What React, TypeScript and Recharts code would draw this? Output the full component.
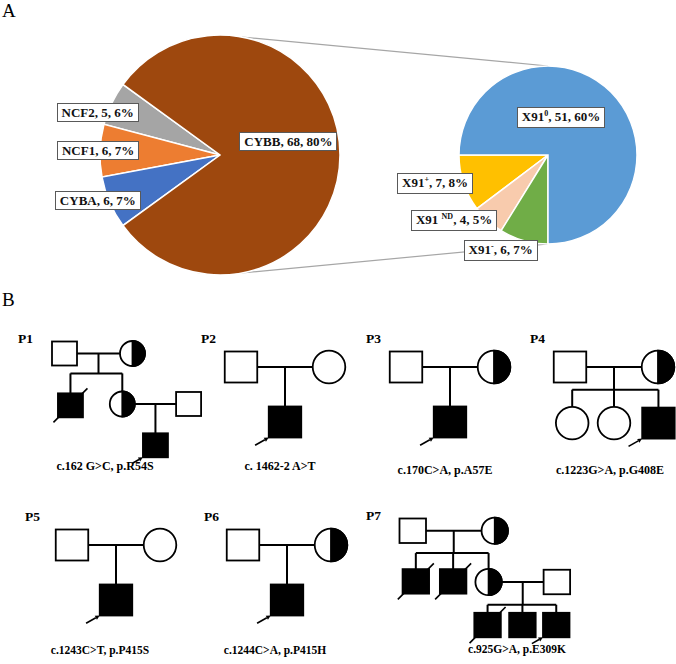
import React from "react";
import {
  PieChart,
  Pie,
  Cell,
  ScatterChart,
  Scatter,
  XAxis,
  YAxis,
  ReferenceLine,
  Customized,
} from "recharts";

// ---- panel A: genes, then CYBB split by X91 subtype ----
const geneNames = ["NCF2", "NCF1", "CYBA", "CYBB"];
const geneCounts = [5, 6, 6, 68];
const geneColors = ["#a5a5a5", "#ed7d31", "#4472c4", "#9e480e"];

const subtypeNames = ["X91", "X91 ", "X91", "X91"];
const subtypeSups = ["+", "ND", "-", "0"];
const subtypeCounts = [7, 4, 6, 51];
const subtypeColors = ["#ffc000", "#f8cbad", "#70ad47", "#5b9bd5"];

const totalPatients = geneCounts.reduce((a, b) => a + b, 0);

// ---- panel B: pedigrees ----
// sex M/F, st: A affected, C carrier, U unaffected; dec = deceased, pb = proband
const p1People = [
  { id: "f", x: 0, y: 0, sex: "M", st: "U" },
  { id: "m", x: 4, y: 0, sex: "F", st: "C" },
  { id: "s1", x: 0.35, y: 3.05, sex: "M", st: "A", dec: true },
  { id: "d", x: 3.4, y: 2.97, sex: "F", st: "C" },
  { id: "h", x: 7.3, y: 2.97, sex: "M", st: "U" },
  { id: "p", x: 5.35, y: 5.4, sex: "M", st: "A", pb: true },
];
const p1Unions = [
  { a: "f", b: "m", kids: ["s1", "d"], bar: 1.17 },
  { a: "d", b: "h", kids: ["p"] },
];

const p2People = [
  { id: "f", x: 0, y: 0, sex: "M", st: "U" },
  { id: "m", x: 4, y: 0, sex: "F", st: "U" },
  { id: "p", x: 2, y: 2.5, sex: "M", st: "A", pb: true },
];
const p3People = [
  { id: "f", x: 0, y: 0, sex: "M", st: "U" },
  { id: "m", x: 4, y: 0, sex: "F", st: "C" },
  { id: "p", x: 2, y: 2.5, sex: "M", st: "A", pb: true },
];
const p4People = [
  { id: "f", x: 0, y: 0, sex: "M", st: "U" },
  { id: "m", x: 4, y: 0, sex: "F", st: "C" },
  { id: "d1", x: 0.1, y: 2.55, sex: "F", st: "U" },
  { id: "d2", x: 2, y: 2.55, sex: "F", st: "U" },
  { id: "p", x: 4.02, y: 2.55, sex: "M", st: "A", pb: true },
];
const p5People = [
  { id: "f", x: 0, y: 0, sex: "M", st: "U" },
  { id: "m", x: 4, y: 0, sex: "F", st: "U" },
  { id: "p", x: 2, y: 2.5, sex: "M", st: "A", pb: true },
];
const p6People = [
  { id: "f", x: 0, y: 0, sex: "M", st: "U" },
  { id: "m", x: 4, y: 0, sex: "F", st: "C" },
  { id: "p", x: 2, y: 2.5, sex: "M", st: "A", pb: true },
];
const trioUnions = [{ a: "f", b: "m", kids: ["p"] }];
const p4Unions = [{ a: "f", b: "m", kids: ["d1", "d2", "p"], bar: 1.03 }];

const p7People = [
  { id: "f", x: 0, y: 0, sex: "M", st: "U" },
  { id: "m", x: 4, y: 0, sex: "F", st: "C" },
  { id: "s1", x: 0.15, y: 2.47, sex: "M", st: "A", dec: true },
  { id: "s2", x: 1.97, y: 2.47, sex: "M", st: "A", dec: true },
  { id: "d", x: 3.7, y: 2.5, sex: "F", st: "C" },
  { id: "h", x: 7.03, y: 2.5, sex: "M", st: "U" },
  { id: "k1", x: 3.65, y: 4.6, sex: "M", st: "A", dec: true },
  { id: "k2", x: 5.35, y: 4.6, sex: "M", st: "A" },
  { id: "k3", x: 7.0, y: 4.6, sex: "M", st: "A", pb: true },
];
const p7Unions = [
  { a: "f", b: "m", kids: ["s1", "s2", "d"], bar: 1.09 },
  { a: "d", b: "h", kids: ["k1", "k2", "k3"], bar: 3.61 },
];

const pedigreeNames = ["P1", "P2", "P3", "P4", "P5", "P6", "P7"];
const mutations = [
  "c.162 G>C, p.R54S",
  "c. 1462-2 A>T",
  "c.170C>A, p.A57E",
  "c.1223G>A, p.G408E",
  "c.1243C>T, p.P415S",
  "c.1244C>A, p.P415H",
  "c.925G>A, p.E309K",
];

const FONT = '"Liberation Serif", "Times New Roman", serif';

// layout only: where each pedigree sits and how big it is drawn
const pedLayout = [
  { people: p1People, unions: p1Unions, ppu: 17, ox: 64.5, oy: 353.5, sq: [25, 24], r: 12.5, tag: [18, 343], mut: [105, 470, 12] },
  { people: p2People, unions: trioUnions, ppu: 22, ox: 240.7, oy: 367, sq: [32.5, 31], r: 16.3, tag: [201, 343], mut: [280, 470, 12] },
  { people: p3People, unions: trioUnions, ppu: 22, ox: 405.5, oy: 366.7, sq: [32.5, 31], r: 16.3, tag: [366, 343], mut: [445, 474, 12] },
  { people: p4People, unions: p4Unions, ppu: 22, ox: 570.3, oy: 366.7, sq: [32.5, 31], r: 16.3, tag: [530, 343], mut: [610, 474, 12] },
  { people: p5People, unions: trioUnions, ppu: 22, ox: 72.2, oy: 545.3, sq: [32.5, 31], r: 16.3, tag: [25, 521], mut: [100, 654, 11.5] },
  { people: p6People, unions: trioUnions, ppu: 22, ox: 243, oy: 545.3, sq: [32.5, 31], r: 16.3, tag: [204, 521], mut: [275, 654, 11.5] },
  { people: p7People, unions: p7Unions, ppu: 20.5, ox: 413, oy: 531, sq: [26.5, 24.5], r: 13.2, tag: [366, 520], mut: [517, 653, 11.5] },
];

// label placement per slice: [radius fraction, dx, dy]
const geneLabelPos = [
  [1, -14, 9],
  [1, -2, 0],
  [1, -12, -2],
  [0.57, 0, -14],
];
const subtypeLabelPos = [
  [1, -28.6, 0],
  [1, -34, 0],
  [1, -23, 10],
  [0.5, -18.5, -6.5],
];

const BIG = { cx: 220, cy: 155, r: 120 };
const SMALL = { cx: 548, cy: 155, r: 89 };

const geneData = geneNames.map((name, i) => ({ name, value: geneCounts[i] }));
const subtypeData = subtypeNames.map((name, i) => ({
  name,
  sup: subtypeSups[i],
  value: subtypeCounts[i],
}));

const makeLabel = (pos: number[][]) => (props: any) => {
  const { cx, cy, midAngle, outerRadius, index, payload, value } = props;
  const [k, dx, dy] = pos[index];
  const rad = (-midAngle * Math.PI) / 180;
  const x = cx + outerRadius * k * Math.cos(rad) + dx;
  const y = cy + outerRadius * k * Math.sin(rad) + dy;
  const pct = Math.round((value / totalPatients) * 100);
  const name = payload.name;
  const sup = payload.sup;
  return (
    <foreignObject x={x - 70} y={y - 13} width={140} height={26}>
      <div
        style={{
          display: "flex",
          justifyContent: "center",
          alignItems: "center",
          height: "100%",
        }}
      >
        <span
          style={{
            background: "#fff",
            border: "1px solid #595959",
            padding: "1px 4px",
            fontFamily: FONT,
            fontWeight: 700,
            fontSize: 13,
            lineHeight: "15px",
            whiteSpace: "nowrap",
            color: "#111",
          }}
        >
          {name}
          {sup ? (
            <span style={{ fontSize: 8, position: "relative", top: -5 }}>{sup}</span>
          ) : null}
          {`, ${value}, ${pct}%`}
        </span>
      </div>
    </foreignObject>
  );
};

const polar = (c: { cx: number; cy: number; r: number }, deg: number) => ({
  x: c.cx + c.r * Math.cos((-deg * Math.PI) / 180),
  y: c.cy + c.r * Math.sin((-deg * Math.PI) / 180),
});

function ConnectorLines() {
  const a1 = polar(BIG, 79.5);
  const b1 = polar(SMALL, 90);
  const a2 = polar(BIG, -79.5);
  const b2 = polar(SMALL, -90);
  return (
    <g stroke="#a6a6a6" strokeWidth={1.2}>
      <line x1={a1.x} y1={a1.y} x2={b1.x} y2={b1.y} />
      <line x1={a2.x} y1={a2.y} x2={b2.x} y2={b2.y} />
    </g>
  );
}

function Glyph(props: any) {
  const { cx, cy, payload, sq, r } = props;
  const [w, h] = sq;
  const fill = payload.st === "A" ? "#000" : "#fff";
  const sw = 1.8;
  const out: any[] = [];
  if (payload.sex === "M") {
    out.push(
      <rect key="b" x={cx - w / 2} y={cy - h / 2} width={w} height={h} fill={fill} stroke="#000" strokeWidth={sw} />
    );
  } else {
    out.push(<circle key="b" cx={cx} cy={cy} r={r} fill={fill} stroke="#000" strokeWidth={sw} />);
    if (payload.st === "C") {
      out.push(
        <path key="h" d={`M${cx},${cy - r} A${r},${r} 0 0 1 ${cx},${cy + r} Z`} fill="#000" stroke="#000" strokeWidth={sw} />
      );
    }
  }
  if (payload.dec) {
    const d = w / 2 + 0.18 * w;
    out.push(
      <line key="d" x1={cx - d} y1={cy + d} x2={cx + d} y2={cy - d} stroke="#000" strokeWidth={1.6} />
    );
  }
  if (payload.pb) {
    const tx = cx - w / 2;
    const ty = cy + h / 2;
    const sx = tx - 0.42 * w;
    const sy = ty + 0.24 * w;
    const len = Math.hypot(tx - sx, ty - sy);
    const ux = (tx - sx) / len;
    const uy = (ty - sy) / len;
    const hl = 4.5;
    const hw = 2.2;
    const bx = tx - ux * hl;
    const by = ty - uy * hl;
    out.push(
      <line key="a" x1={sx} y1={sy} x2={bx} y2={by} stroke="#000" strokeWidth={1.6} />,
      <polygon
        key="ah"
        points={`${tx},${ty} ${bx - uy * hw},${by + ux * hw} ${bx + uy * hw},${by - ux * hw}`}
        fill="#000"
      />
    );
  }
  return <g>{out}</g>;
}

function buildSegments(people: any[], unions: any[], ppu: number, sq: number[], r: number) {
  const byId: Record<string, any> = {};
  people.forEach((p) => (byId[p.id] = p));
  const hx = (p: any) => (p.sex === "M" ? sq[0] / 2 : r) / ppu;
  const hy = (p: any) => (p.sex === "M" ? sq[1] / 2 : r) / ppu;
  const segs: any[] = [];
  unions.forEach((u) => {
    const a = byId[u.a];
    const b = byId[u.b];
    const [l, rt] = a.x < b.x ? [a, b] : [b, a];
    const y = (a.y + b.y) / 2;
    segs.push([{ x: l.x + hx(l), y }, { x: rt.x - hx(rt), y }]);
    const mid = (a.x + b.x) / 2;
    const kids = u.kids.map((id: string) => byId[id]);
    if (kids.length === 1) {
      segs.push([{ x: mid, y }, { x: mid, y: kids[0].y - hy(kids[0]) }]);
    } else {
      const xs = kids.map((k: any) => k.x);
      segs.push([{ x: mid, y }, { x: mid, y: u.bar }]);
      segs.push([{ x: Math.min(...xs), y: u.bar }, { x: Math.max(...xs), y: u.bar }]);
      kids.forEach((k: any) => segs.push([{ x: k.x, y: u.bar }, { x: k.x, y: k.y - hy(k) }]));
    }
  });
  return segs;
}

function Pedigree({ people, unions, ppu, ox, oy, sq, r }: any) {
  const x0 = -1.5;
  const y0 = -1.5;
  const x1 = Math.max(...people.map((p: any) => p.x)) + 1.5;
  const y1 = Math.max(...people.map((p: any) => p.y)) + 1.5;
  const segs = buildSegments(people, unions, ppu, sq, r);
  return (
    <div style={{ position: "absolute", left: ox + x0 * ppu, top: oy + y0 * ppu }}>
      <ScatterChart width={(x1 - x0) * ppu} height={(y1 - y0) * ppu} margin={{ top: 0, right: 0, bottom: 0, left: 0 }}>
        <XAxis type="number" dataKey="x" domain={[x0, x1]} hide allowDataOverflow />
        <YAxis type="number" dataKey="y" domain={[y0, y1]} hide reversed allowDataOverflow />
        {segs.map((s: any, i: number) => (
          <ReferenceLine key={i} segment={s} stroke="#000" strokeWidth={2} ifOverflow="visible" />
        ))}
        <Scatter
          data={people}
          isAnimationActive={false}
          shape={(p: any) => <Glyph {...p} sq={sq} r={r} />}
        />
      </ScatterChart>
    </div>
  );
}

export default function App() {
  return (
    <div
      style={{
        position: "relative",
        width: 676,
        height: 664,
        background: "#fff",
        overflow: "hidden",
        fontFamily: FONT,
      }}
    >
      <style>{"body{margin:0}"}</style>
      <div style={{ position: "absolute", left: 0, top: 0 }}>
        <PieChart width={676} height={290} margin={{ top: 0, right: 0, bottom: 0, left: 0 }}>
          <Customized component={ConnectorLines} />
          <Pie
            data={geneData}
            dataKey="value"
            nameKey="name"
            cx={BIG.cx}
            cy={BIG.cy}
            outerRadius={BIG.r}
            startAngle={144}
            endAngle={504}
            stroke="#fff"
            strokeWidth={1.5}
            label={makeLabel(geneLabelPos)}
            labelLine={false}
            isAnimationActive={false}
          >
            {geneData.map((d, i) => (
              <Cell key={d.name} fill={geneColors[i]} />
            ))}
          </Pie>
          <Pie
            data={subtypeData}
            dataKey="value"
            nameKey="name"
            cx={SMALL.cx}
            cy={SMALL.cy}
            outerRadius={SMALL.r}
            startAngle={180}
            endAngle={540}
            stroke="#fff"
            strokeWidth={1.5}
            label={makeLabel(subtypeLabelPos)}
            labelLine={false}
            isAnimationActive={false}
          >
            {subtypeData.map((d, i) => (
              <Cell key={i} fill={subtypeColors[i]} />
            ))}
          </Pie>
        </PieChart>
      </div>

      {pedLayout.map((p, i) => (
        <Pedigree key={i} {...p} />
      ))}

      <svg
        width={676}
        height={664}
        style={{ position: "absolute", left: 0, top: 0, pointerEvents: "none" }}
        fontFamily={FONT}
      >
        <text x={2} y={17} fontSize={19}>A</text>
        <text x={2} y={306} fontSize={19}>B</text>
        {pedLayout.map((p, i) => (
          <g key={i}>
            <text x={p.tag[0]} y={p.tag[1]} fontSize={13.5} fontWeight={700}>
              {pedigreeNames[i]}
            </text>
            <text x={p.mut[0]} y={p.mut[1]} fontSize={p.mut[2]} fontWeight={700} textAnchor="middle">
              {mutations[i]}
            </text>
          </g>
        ))}
      </svg>
    </div>
  );
}
